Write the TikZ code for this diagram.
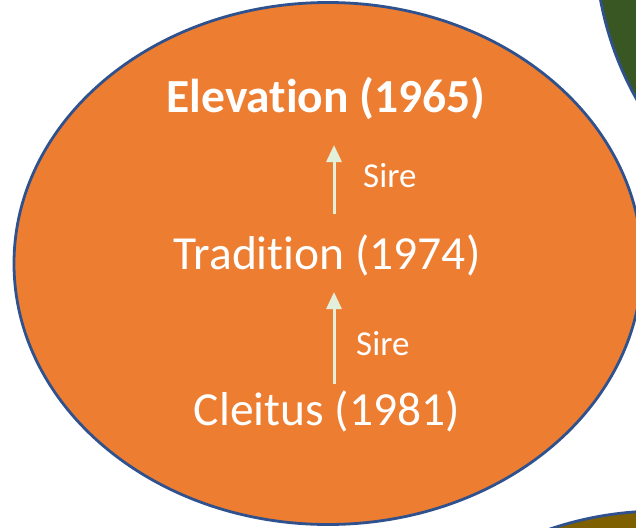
\documentclass[tikz,border=0pt]{standalone}
\usepackage{fontspec}
\setmainfont{Carlito}[Ligatures=NoCommon]
\usetikzlibrary{arrows.meta}
\definecolor{orangefill}{HTML}{ED7D31}
\definecolor{edgeblue}{HTML}{2F528F}
\definecolor{greenfill}{HTML}{385723}
\definecolor{brownfill}{HTML}{7F6000}
\definecolor{arrowgreen}{HTML}{E2EFDA}
\tikzset{
  blob/.style={draw=edgeblue, line width=2.8pt},
  label/.style={text=white, inner sep=0pt, font=\fontsize{47.5}{50}\selectfont},
  sirelabel/.style={text=white, inner sep=0pt, font=\fontsize{35}{38}\selectfont},
  sirearrow/.style={draw=arrowgreen, line width=3pt, -{Triangle[width=15pt,length=17pt]}}
}
\begin{document}
\begin{tikzpicture}[x=1pt,y=-1pt]
\useasboundingbox (0,0) rectangle (636,527);
\begin{scope}
\clip (0,0) rectangle (636,527);
\fill[white] (0,0) rectangle (636,527);
\draw[blob, fill=greenfill] (920,-60) circle [radius=325];
\draw[blob, fill=brownfill] (660,854) circle [radius=343];
\draw[blob, fill=orangefill] (328,263.5) ellipse [x radius=314, y radius=261];
\end{scope}
\node[label, font=\fontsize{47.5}{50}\selectfont\bfseries] (elev) at (326,98) {Elevation (1965)};
\node[label] (trad) at (327,255) {Tradition (1974)};
\node[label] (cleit) at (327,411) {Cleitus (1981)};
\coordinate (a1s) at (334,214);
\coordinate (a1e) at (334,145);
\coordinate (a2s) at (334,384);
\coordinate (a2e) at (334,292);
\draw[sirearrow] (a1s) -- (a1e);
\draw[sirearrow] (a2s) -- (a2e);
\node[sirelabel, anchor=west] (sire1) at (363,176) {Sire};
\node[sirelabel, anchor=west] (sire2) at (356,344) {Sire};
\end{tikzpicture}
\end{document}
